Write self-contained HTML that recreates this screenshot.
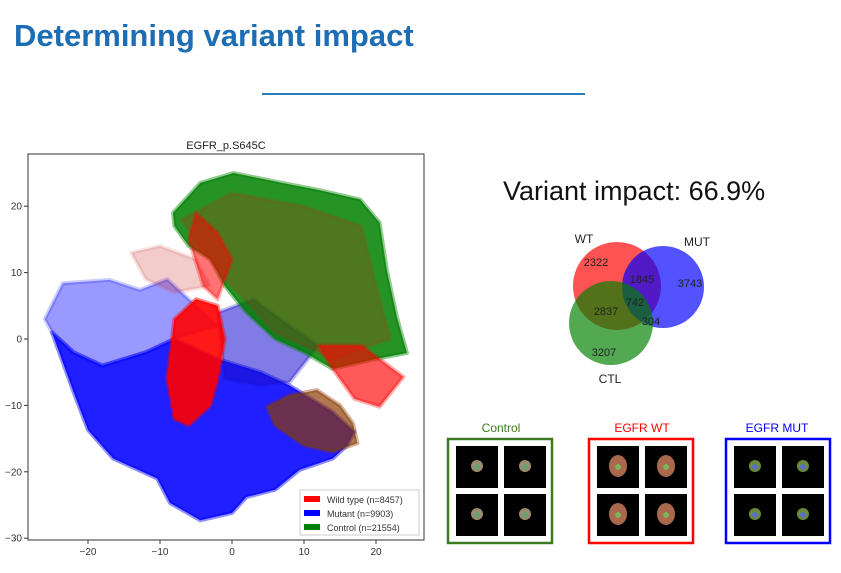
<!DOCTYPE html>
<html><head><meta charset="utf-8"><style>
body{margin:0;width:841px;height:573px;background:#fff;overflow:hidden;position:relative;font-family:"Liberation Sans",sans-serif}
.t{position:absolute}
</style></head><body>
<div class="t" style="left:14px;top:18px;font-size:31px;font-weight:bold;color:#1d6db5">Determining variant impact</div>
<div class="t" style="left:262px;top:93px;width:323px;height:2px;background:#2a7fb8"></div>
<div class="t" style="left:503px;top:176px;font-size:27px;color:#111">Variant impact: 66.9%</div>
<svg id="chart" width="841" height="573" style="position:absolute;left:0;top:0"></svg>
<script>
const xTicks=[-20,-10,0,10,20];
const yTicks=[20,10,0,-10,-20,-30];
const mutantDense=[[-25,1],[-22,-2],[-18,-4],[-12,-2],[-8,0],[-2,-3],[4,-5],[8,-7],[14,-11],[17,-14],[16,-16],[14,-18],[9.4,-19.7],[6,-22.7],[2,-23.8],[0,-26.2],[-4.4,-27.3],[-8.6,-24.7],[-10.4,-21],[-16.5,-18],[-20,-13.7],[-22,-8]];
const mutantSparse=[[-26,3],[-23.5,8.4],[-17,8.9],[-12.8,7.4],[-9,9],[-6,6],[-2,2],[-8,0],[-12,-2],[-18,-4],[-22,-2],[-25,1]];
const mixedCenter=[[-2,4],[3,6],[8,2],[12,-1],[8,-6.5],[4,-7],[-1,-6]];
const controlRegion=[[-8.2,19],[-4.4,23.5],[0.2,25],[7,23.5],[11.8,22.5],[17.8,21],[20.5,17.5],[21.5,10.4],[22.9,3.3],[24.3,-2.1],[20,-3],[14,-4.5],[10,-2],[6,0],[2,4],[-1,8],[-3,12],[-6,14],[-8,17]];
const wtScatterInControl=[[-7,18],[0,22],[10,20],[18,17],[20,8],[22,0],[14,-3],[6,1],[0,8],[-4,13]];
const wtRightRegion=[[12,-1],[18,-1],[23.8,-5.7],[20.5,-10.2],[17,-9],[14,-4.5]];
const lowerLobeRegion=[[4.9,-10.2],[8,-8.5],[11.8,-7.7],[15,-10],[16.8,-12.7],[17.4,-15.7],[14,-17],[10,-16],[6,-13]];
const wtCenterRegion=[[-8,3],[-5,6],[-2,5],[-1,0],[-2,-6],[-3,-10],[-6,-13],[-8,-12],[-9,-6]];
const wtStripRegion=[[-5,19],[-2,16],[0,12],[-2,6],[-4,8],[-6,15]];
const sparseStreakRegion=[[-14,13],[-10,14],[-5,12],[-3,8],[-8,7],[-12,9]];
const legendLabels=["Wild type (n=8457)","Mutant (n=9903)","Control (n=21554)"];
const legendColors=["#ff0000","#0000ff","#008000"];
const vennLabels=["2322","1845","3743","2837","742","304","3207"];
const svg=document.getElementById('chart');
const NS='http://www.w3.org/2000/svg';
const X=v=>232+v*7.2, Y=v=>339-v*6.64;
function mk(t,a){const e=document.createElementNS(NS,t);for(const k in a)e.setAttribute(k,a[k]);svg.appendChild(e);return e;}
function poly(pts,fill,op,name){const e=mk('polygon',{points:pts.map(p=>X(p[0])+','+Y(p[1])).join(' '),fill:fill,'fill-opacity':op,stroke:fill,'stroke-opacity':op*0.5,'stroke-width':4,'stroke-linejoin':'round'});

}
const frame=mk('rect',{x:28,y:154,width:396,height:386,fill:'#fff',stroke:'#333','stroke-width':1});


poly(mutantSparse,'#0000ff',0.4,'mutant-sparse-cluster');
poly(sparseStreakRegion,'#cc3030',0.25,'mixed-sparse-streak');
poly(mutantDense,'#0000ff',0.88,'mutant-cluster');
poly(mixedCenter,'#1a10d0',0.55,'mixed-center-cluster');
poly(lowerLobeRegion,'#ff0000',0.55,'wild-type-lower-lobe');
poly(lowerLobeRegion,'#008000',0.3,'control-lower-lobe');
poly(controlRegion,'#008000',0.85,'control-cluster');
poly(wtScatterInControl,'#ff0000',0.18,'wild-type-scatter-in-control');
poly(wtRightRegion,'#ff0000',0.65,'wild-type-cluster-right');
poly(wtStripRegion,'#ff0000',0.55,'wild-type-cluster-strip');
poly(wtCenterRegion,'#ff0000',0.9,'wild-type-cluster-center');
const ttl=mk('text',{x:226,y:149,'font-size':11,'text-anchor':'middle',fill:'#222'});ttl.textContent='EGFR_p.S645C';


xTicks.forEach(v=>{mk('line',{x1:X(v),x2:X(v),y1:540,y2:544,stroke:'#333'});const t=mk('text',{x:X(v),y:555,'font-size':10,'text-anchor':'middle',fill:'#333'});t.textContent=v<0?'\u2212'+(-v):v;

});
yTicks.forEach(v=>{mk('line',{x1:24,x2:28,y1:Y(v),y2:Y(v),stroke:'#333'});const t=mk('text',{x:22,y:Y(v)+3.5,'font-size':10,'text-anchor':'end',fill:'#333'});t.textContent=v<0?'\u2212'+(-v):v;

});
const lg=mk('rect',{x:300,y:490,width:119,height:45,fill:'#fff',stroke:'#ccc'});


legendLabels.forEach((l,i)=>{mk('rect',{x:304,y:496+i*14,width:16,height:6,fill:legendColors[i]});const t=mk('text',{x:327,y:503+i*14,'font-size':9,fill:'#333'});t.textContent=l;

});
[[617,286,44,'#ff0000','wt-circle'],[663,287,41,'#0000ff','mut-circle'],[611,323,42,'#008000','ctl-circle']].forEach(c=>{const e=mk('circle',{cx:c[0],cy:c[1],r:c[2],fill:c[3],'fill-opacity':0.68});

});
const vpos=[[596,266],[642,283],[690,287],[606,315],[635,306],[651,325],[604,356]];
vennLabels.forEach((l,i)=>{const t=mk('text',{x:vpos[i][0],y:vpos[i][1],'font-size':11,'text-anchor':'middle',fill:'#222'});t.textContent=l;

});
[['WT',584,243],['MUT',697,246],['CTL',610,383]].forEach(s=>{const t=mk('text',{x:s[1],y:s[2],'font-size':12,'text-anchor':'middle',fill:'#222'});t.textContent=s[0];

});
[['Control','#3b7a23',447,501],['EGFR WT','#ff0000',588,642],['EGFR MUT','#0000ff',725,777]].forEach((b,bi)=>{
const t=mk('text',{x:b[3],y:432,'font-size':12,'text-anchor':'middle',fill:b[1]});t.textContent=b[0];


const r=mk('rect',{x:b[2]+1,y:439,width:104,height:104,fill:'#fff',stroke:b[1],'stroke-width':2.5});


[[0,0],[1,0],[0,1],[1,1]].forEach(p=>{const x=b[2]+9+p[0]*48,y=446+p[1]*48;const im=mk('rect',{x:x,y:y,width:42,height:42,fill:'#000'});


mk('ellipse',{cx:x+21,cy:y+20,rx:bi==1?9:6,ry:bi==1?11:6,fill:['#9a8a70','#a86a4a','#6a8a3a'][bi]});
mk('circle',{cx:x+21,cy:y+21,r:3,fill:['#6aa070','#80b060','#6070c0'][bi]});});
});
</script>
</body></html>
